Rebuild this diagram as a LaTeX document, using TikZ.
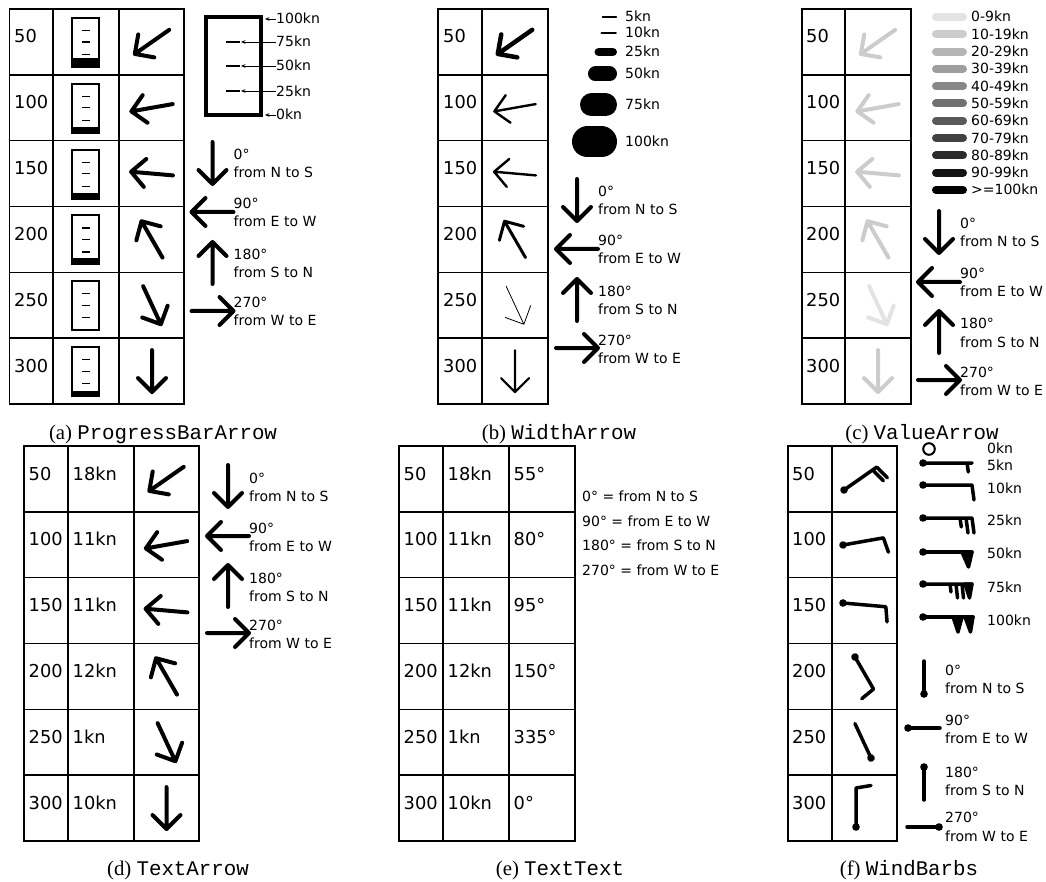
\documentclass[tikz,border=0pt]{standalone}
\usepackage{fontspec}
\setmainfont{DejaVu Sans}
\newfontfamily\capserif{Liberation Serif}
\newfontfamily\capmono{Liberation Mono}
\usetikzlibrary{arrows.meta}
\newcommand\tabfnt{\fontsize{17.8}{20}\selectfont}
\newcommand\legfnt{\fontsize{14}{17}\selectfont}
\newcommand\capfnt{\fontsize{20.8}{24}\selectfont}
\colorlet{g0}{black!11}
\colorlet{g1}{black!20}
\colorlet{g2}{black!29}
\colorlet{g3}{black!38}
\colorlet{g4}{black!47}
\colorlet{g5}{black!56}
\colorlet{g6}{black!65}
\colorlet{g7}{black!74}
\colorlet{g8}{black!83}
\colorlet{g9}{black!92}
\colorlet{g10}{black}
\tikzset{
  tbl/.style={line width=1.6pt, line cap=rect},
  tnum/.style={anchor=base west, inner sep=0pt, font=\tabfnt},
  leg/.style={anchor=base west, inner sep=0pt, font=\legfnt},
  capt/.style={anchor=base, inner sep=0pt, font=\capfnt},
  barb/.style={line width=3.5pt, line cap=round, line join=round},
  pointer/.style={line width=0.9pt, -{Stealth[length=4.5pt,width=3.8pt]}},
  pics/warrow/.style 2 args={code={
    \draw[line width=#1, draw=#2, line cap=round, line join=round]
      (0,-21) -- (0,21) (-14,7) -- (0,21) -- (14,7);
  }},
}
\newcommand\dirleg[6]{%
  \pic at (#2,#3) {warrow={4pt}{black}};
  \pic[rotate=-90] at (#2,#4) {warrow={4pt}{black}};
  \pic[rotate=-180] at (#2,#5) {warrow={4pt}{black}};
  \pic[rotate=-270] at (#2,#6) {warrow={4pt}{black}};
  \node[leg] (#1-d0a) at (#2+21,#3-3) {0°};
  \node[leg] (#1-d0b) at (#2+21,#3+15) {from N to S};
  \node[leg] (#1-d1a) at (#2+21,#4-3) {90°};
  \node[leg] (#1-d1b) at (#2+21,#4+15) {from E to W};
  \node[leg] (#1-d2a) at (#2+21,#5-3) {180°};
  \node[leg] (#1-d2b) at (#2+21,#5+15) {from S to N};
  \node[leg] (#1-d3a) at (#2+21,#6-3) {270°};
  \node[leg] (#1-d3b) at (#2+21,#6+15) {from W to E};
}
\begin{document}
\begin{tikzpicture}[x=1pt,y=-1pt]
\useasboundingbox (0,0) rectangle (1046,882);

% ================= (a) ProgressBarArrow =================
\foreach \x in {9.5,53,119,184} \draw[tbl] (\x,9) -- (\x,404);
\foreach \i in {0,...,6} \draw[tbl] (9.5,9+\i*65.833) -- (184,9+\i*65.833);
\foreach \v [count=\i from 0] in {50,100,150,200,250,300}
  \node[tnum] (a-r\i) at (14,9+\i*65.833+34) {\v};
\foreach \f [count=\i from 0] in {10,7,7,7,2,6} {
  \pgfmathsetmacro\t{9+\i*65.833}
  \fill (71,\t+59-\f) rectangle (100,\t+59);
  \draw[line width=2pt] (72,\t+9) rectangle (99,\t+58);
  \foreach \dy in {21.5,33,45.5} \draw[line width=1.3pt] (82,\t+\dy) -- (89.5,\t+\dy);
}
\foreach \a [count=\i from 0] in {55,80,95,150,335,0}
  \pic[rotate=-\a] at (152,9+\i*65.833+32.9) {warrow={4pt}{black}};
% bar legend
\draw[line width=4pt] (206,17) rectangle (261,115);
\foreach \y in {42,66,91} \draw[line width=2.5pt] (226,\y) -- (240,\y);
\node[leg] (a-k100) at (276,24) {100kn};
\node[leg] (a-k75) at (276,47) {75kn};
\node[leg] (a-k50) at (276,71) {50kn};
\node[leg] (a-k25) at (276,97) {25kn};
\node[leg] (a-k0) at (276,120) {0kn};
\coordinate (a-t100) at (265,19);
\coordinate (a-t75) at (241,42);
\coordinate (a-t50) at (241,66);
\coordinate (a-t25) at (241,91);
\coordinate (a-t0) at (265,115);
\draw[pointer] (276,19) -- (a-t100);
\draw[pointer] (276,42) -- (a-t75);
\draw[pointer] (276,66) -- (a-t50);
\draw[pointer] (276,91) -- (a-t25);
\draw[pointer] (276,115) -- (a-t0);
\dirleg{a}{212.5}{163}{212}{263}{311}
\node[capt] (capa) at (163,439) {\capserif (a) \capmono ProgressBarArrow};

% ================= (b) WidthArrow =================
\foreach \x in {438,482,548} \draw[tbl] (\x,9) -- (\x,404);
\foreach \i in {0,...,6} \draw[tbl] (438,9+\i*65.833) -- (548,9+\i*65.833);
\foreach \v [count=\i from 0] in {50,100,150,200,250,300}
  \node[tnum] (b-r\i) at (443,9+\i*65.833+34) {\v};
\foreach \a/\w [count=\i from 0] in {55/4.5,80/2.4,95/2.4,150/3,335/0.8,0/2.1}
  \pic[rotate=-\a] at (515,9+\i*65.833+32.9) {warrow={\w pt}{black}};
\foreach \k/\w/\y in {5/1.2/17,10/2.6/33,25/8.5/52,50/15/74,75/23/105,100/31/142} {
  \draw[line width=\w pt, line cap=round] (617-\w/2-14,\y) -- (617-\w/2,\y);
  \node[leg] (b-k\k) at (625,\y+5) {\k kn};
}
\dirleg{b}{577}{200}{249}{300}{348}
\node[capt] (capb) at (559,439) {\capserif (b) \capmono WidthArrow};

% ================= (c) ValueArrow =================
\foreach \x in {802,845,911} \draw[tbl] (\x,9) -- (\x,404);
\foreach \i in {0,...,6} \draw[tbl] (802,9+\i*65.833) -- (911,9+\i*65.833);
\foreach \v [count=\i from 0] in {50,100,150,200,250,300}
  \node[tnum] (c-r\i) at (806,9+\i*65.833+34) {\v};
\foreach \a/\c [count=\i from 0] in {55/g1,80/g1,95/g1,150/g1,335/g0,0/g1}
  \pic[rotate=-\a] at (878,9+\i*65.833+32.9) {warrow={4pt}{\c}};
\foreach \t [count=\i from 0] in {0-9kn,10-19kn,20-29kn,30-39kn,40-49kn,50-59kn,60-69kn,70-79kn,80-89kn,90-99kn,>=100kn} {
  \draw[line width=8pt, line cap=round, draw=g\i] (936,17+\i*17.3) -- (963,17+\i*17.3);
  \node[leg] (c-k\i) at (971,17+\i*17.3+5) {\t};
}
\dirleg{c}{939}{232}{282}{332}{380}
\node[capt] (capc) at (922,439) {\capserif (c) \capmono ValueArrow};

% ================= (d) TextArrow =================
\foreach \x in {24,68,134,199} \draw[tbl] (\x,446) -- (\x,841);
\foreach \i in {0,...,6} \draw[tbl] (24,446+\i*65.833) -- (199,446+\i*65.833);
\foreach \v/\s [count=\i from 0] in {50/18kn,100/11kn,150/11kn,200/12kn,250/1kn,300/10kn} {
  \node[tnum] (d-r\i) at (28.5,446+\i*65.833+34) {\v};
  \node[tnum] (d-s\i) at (72.5,446+\i*65.833+34) {\s};
}
\foreach \a [count=\i from 0] in {55,80,95,150,335,0}
  \pic[rotate=-\a] at (166.5,446+\i*65.833+32.9) {warrow={4pt}{black}};
\dirleg{d}{228}{486}{536}{586}{633}
\node[capt] (capd) at (178,875) {\capserif (d) \capmono TextArrow};

% ================= (e) TextText =================
\foreach \x in {399,443,509,575} \draw[tbl] (\x,446) -- (\x,841);
\foreach \i in {0,...,6} \draw[tbl] (399,446+\i*65.833) -- (575,446+\i*65.833);
\foreach \v/\s/\d [count=\i from 0] in {50/18kn/55°,100/11kn/80°,150/11kn/95°,200/12kn/150°,250/1kn/335°,300/10kn/0°} {
  \node[tnum] (e-r\i) at (403.5,446+\i*65.833+34) {\v};
  \node[tnum] (e-s\i) at (447.5,446+\i*65.833+34) {\s};
  \node[tnum] (e-d\i) at (513.5,446+\i*65.833+34) {\d};
}
\node[leg] (e-l0) at (582,501) {0° = from N to S};
\node[leg] (e-l1) at (582,526) {90° = from E to W};
\node[leg] (e-l2) at (582,550) {180° = from S to N};
\node[leg] (e-l3) at (582,575) {270° = from W to E};
\node[capt] (cape) at (560,875) {\capserif (e) \capmono TextText};

% ================= (f) WindBarbs =================
\foreach \x in {788,832,897} \draw[tbl] (\x,446) -- (\x,841);
\foreach \i in {0,...,6} \draw[tbl] (788,446+\i*65.833) -- (897,446+\i*65.833);
\foreach \v [count=\i from 0] in {50,100,150,200,250,300}
  \node[tnum] (f-r\i) at (792,446+\i*65.833+34) {\v};
% table barbs
\begin{scope}[shift={(844,490)}, rotate=35]
  \fill (0,0) circle[radius=3.8pt];
  \draw[barb] (0,0) -- (40,0) (40,0) -- (42.5,15) (35,0) -- (37.5,15);
\end{scope}
\begin{scope}[shift={(843,545)}, rotate=10]
  \fill (0,0) circle[radius=3.8pt];
  \draw[barb] (0,0) -- (41,0) -- (43.5,15);
\end{scope}
\begin{scope}[shift={(843,603)}, rotate=-5]
  \fill (0,0) circle[radius=3.8pt];
  \draw[barb] (0,0) -- (43,0) -- (45.5,15);
\end{scope}
\begin{scope}[shift={(855,657)}, rotate=-60]
  \fill (0,0) circle[radius=3.8pt];
  \draw[barb] (0,0) -- (37,0) -- (39.5,15);
\end{scope}
\begin{scope}[shift={(871,758)}, rotate=115]
  \fill (0,0) circle[radius=3.8pt];
  \draw[barb] (0,0) -- (38,0);
\end{scope}
\begin{scope}[shift={(856,827)}, rotate=90]
  \fill (0,0) circle[radius=3.8pt];
  \draw[barb] (0,0) -- (39,0) -- (41.5,15);
\end{scope}
% speed legend
\draw[line width=2pt] (929,449) circle[radius=5.8pt];
\node[leg] (f-k0) at (987,453) {0kn};
\begin{scope}[shift={(923,463)}]
  \fill (0,0) circle[radius=3.8pt];
  \draw[barb] (0,0) -- (49,0) (44,0) -- (45.3,9);
\end{scope}
\node[leg] (f-k5) at (987,470) {5kn};
\begin{scope}[shift={(923,485)}]
  \fill (0,0) circle[radius=3.8pt];
  \draw[barb] (0,0) -- (49,0) -- (51,15);
\end{scope}
\node[leg] (f-k10) at (987,493) {10kn};
\begin{scope}[shift={(923,518)}]
  \fill (0,0) circle[radius=3.8pt];
  \draw[barb] (0,0) -- (49,0) -- (51,15) (43,0) -- (45,15) (37,0) -- (38.3,9);
\end{scope}
\node[leg] (f-k25) at (987,525) {25kn};
\begin{scope}[shift={(923,552)}]
  \fill (0,0) circle[radius=3.8pt];
  \draw[barb] (0,0) -- (49,0);
  \filldraw[barb] (39,0) -- (49,0) -- (45.5,15) -- cycle;
\end{scope}
\node[leg] (f-k50) at (987,558) {50kn};
\begin{scope}[shift={(923,584)}]
  \fill (0,0) circle[radius=3.8pt];
  \draw[barb] (0,0) -- (49,0) (39,0) -- (40.5,14) (33,0) -- (34.5,14) (27,0) -- (28,8);
  \filldraw[barb] (42,0) -- (49,0) -- (46.5,14) -- cycle;
\end{scope}
\node[leg] (f-k75) at (987,592) {75kn};
\begin{scope}[shift={(923,617)}]
  \fill (0,0) circle[radius=3.8pt];
  \draw[barb] (0,0) -- (50,0);
  \filldraw[barb] (30,0) -- (39,0) -- (35,15) -- cycle;
  \filldraw[barb] (42,0) -- (50,0) -- (47.5,15) -- cycle;
\end{scope}
\node[leg] (f-k100) at (987,625) {100kn};
% direction legend
\begin{scope}[shift={(924,694)}, rotate=90]
  \fill (0,0) circle[radius=3.8pt];
  \draw[barb] (0,0) -- (33,0);
\end{scope}
\begin{scope}[shift={(908,728)}]
  \fill (0,0) circle[radius=3.8pt];
  \draw[barb] (0,0) -- (32,0);
\end{scope}
\begin{scope}[shift={(924,767)}, rotate=-90]
  \fill (0,0) circle[radius=3.8pt];
  \draw[barb] (0,0) -- (33,0);
\end{scope}
\begin{scope}[shift={(939,827)}, rotate=180]
  \fill (0,0) circle[radius=3.8pt];
  \draw[barb] (0,0) -- (32,0);
\end{scope}
\node[leg] (f-d0a) at (945,675) {0°};
\node[leg] (f-d0b) at (945,693) {from N to S};
\node[leg] (f-d1a) at (945,725) {90°};
\node[leg] (f-d1b) at (945,743) {from E to W};
\node[leg] (f-d2a) at (945,777) {180°};
\node[leg] (f-d2b) at (945,795) {from S to N};
\node[leg] (f-d3a) at (945,822) {270°};
\node[leg] (f-d3b) at (945,841) {from W to E};
\node[capt] (capf) at (909,875) {\capserif (f) \capmono WindBarbs};
\end{tikzpicture}
\end{document}
